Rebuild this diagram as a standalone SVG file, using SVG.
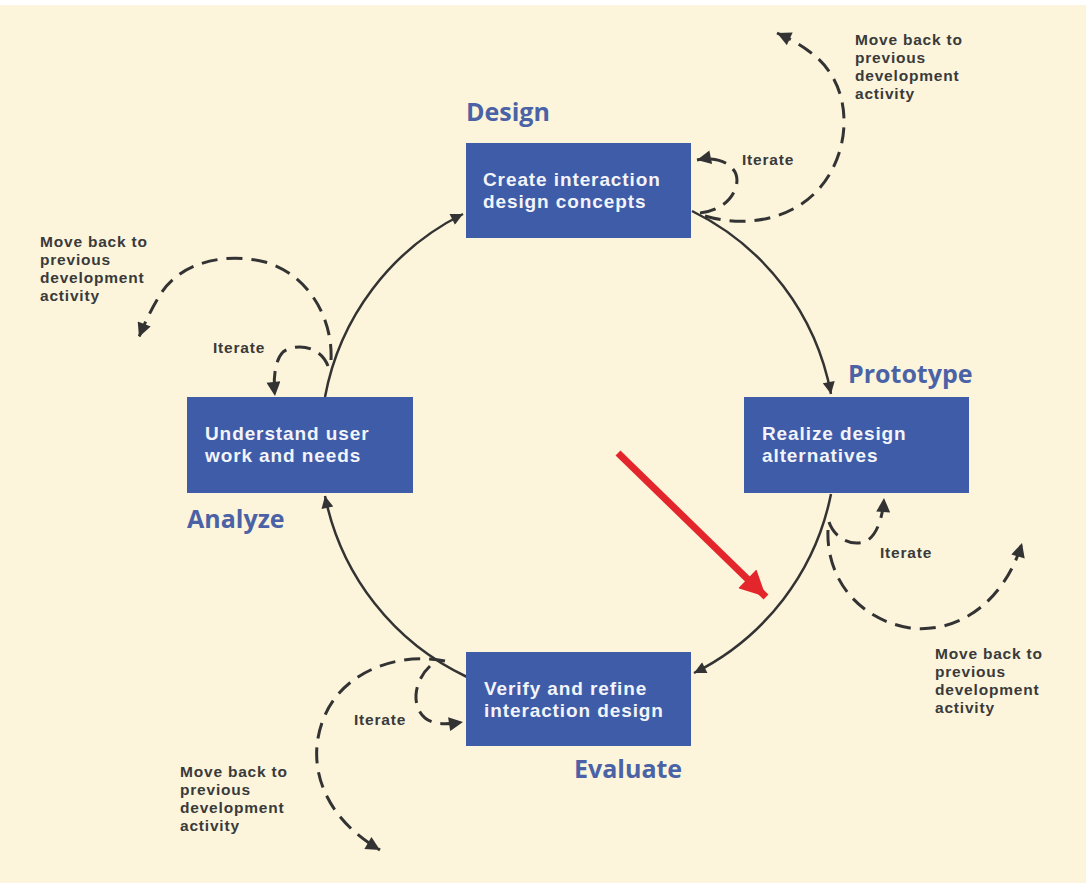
<svg xmlns="http://www.w3.org/2000/svg" width="1086" height="886" viewBox="0 0 1086 886">
<defs>
<style>
.box{fill:#3f5ca8}
.bt{font-family:"Liberation Sans",Arial,sans-serif;font-weight:700;font-size:19px;letter-spacing:0.9px;fill:#f2f4fa}
.lab{font-family:"Open Sans","Liberation Sans",sans-serif;font-weight:700;font-size:25px;fill:#4b63a6}
.sm{font-family:"Liberation Sans",Arial,sans-serif;font-weight:700;font-size:15.5px;letter-spacing:0.8px;fill:#3a3a3a}
.solid{fill:none;stroke:#333;stroke-width:2.5}
.dash{fill:none;stroke:#333;stroke-width:3;stroke-dasharray:16 9}
</style>
<marker id="ah" viewBox="0 0 10 10" refX="10" refY="5" markerUnits="userSpaceOnUse" markerWidth="16" markerHeight="12" orient="auto"><path d="M0,0 L10,5 L0,10 z" fill="#333"/></marker>
<marker id="ahd" viewBox="0 0 10 10" refX="10" refY="5" markerUnits="userSpaceOnUse" markerWidth="17" markerHeight="14" orient="auto"><path d="M0,0 L10,5 L0,10 z" fill="#333"/></marker>
<marker id="ahr" viewBox="0 0 10 10" refX="10" refY="5" markerUnits="userSpaceOnUse" markerWidth="30" markerHeight="26" orient="auto"><path d="M0,0 L10,5 L0,10 z" fill="#e3262b"/></marker>
</defs>
<rect x="0" y="0" width="1086" height="886" fill="#ffffff"/>
<rect x="0" y="5" width="1086" height="878" fill="#fcf5dc"/>

<g id="connectors">
<path class="solid" d="M692,211 A256,256 0 0 1 831,394" marker-end="url(#ah)"/>
<path class="solid" d="M831,494 A256,256 0 0 1 694,673" marker-end="url(#ah)"/>
<path class="solid" d="M467,677 A256,256 0 0 1 325,496" marker-end="url(#ah)"/>
<path class="solid" d="M325,397 A256,256 0 0 1 463,214" marker-end="url(#ah)"/>

<path class="dash" d="M700,213 C730,210 742,185 735,172 C728,160 712,157 697,160" marker-end="url(#ahd)"/>
<path class="dash" d="M705,216 C760,232 822,212 840,150 C850,115 842,75 810,52 C800,44 788,38 777,33" marker-end="url(#ahd)"/>

<path class="dash" d="M328,366 C320,345 295,343 283,352 C275,360 273,378 275,396" marker-end="url(#ahd)"/>
<path class="dash" d="M331,360 C333,320 310,275 265,262 C225,252 180,262 160,295 C152,308 145,322 139,337" marker-end="url(#ahd)"/>

<path class="dash" d="M829,522 C835,540 855,548 868,540 C878,533 883,515 884,498" marker-end="url(#ahd)"/>
<path class="dash" d="M828,530 C826,580 860,620 910,628 C960,634 1005,600 1022,543" marker-end="url(#ahd)"/>

<path class="dash" d="M430,666 C415,680 410,705 425,718 C435,726 450,724 463,722" marker-end="url(#ahd)"/>
<path class="dash" d="M445,661 C400,652 345,670 325,715 C305,760 320,815 380,850" marker-end="url(#ahd)"/>

<path d="M618,453 L766,597" fill="none" stroke="#e3262b" stroke-width="7" marker-end="url(#ahr)"/>
</g>

<g id="design">
<rect class="box" x="466" y="143" width="225" height="95"/>
<text class="bt" x="483" y="186">Create interaction</text>
<text class="bt" x="483" y="208">design concepts</text>
<text class="lab" x="466" y="121">Design</text>
</g>
<g id="prototype">
<rect class="box" x="744" y="397" width="225" height="96"/>
<text class="bt" x="762" y="440">Realize design</text>
<text class="bt" x="762" y="462">alternatives</text>
<text class="lab" x="848" y="383">Prototype</text>
</g>
<g id="analyze">
<rect class="box" x="187" y="397" width="226" height="96"/>
<text class="bt" x="205" y="440">Understand user</text>
<text class="bt" x="205" y="462">work and needs</text>
<text class="lab" x="187" y="528">Analyze</text>
</g>
<g id="evaluate">
<rect class="box" x="466" y="652" width="225" height="94"/>
<text class="bt" x="484" y="695">Verify and refine</text>
<text class="bt" x="484" y="717">interaction design</text>
<text class="lab" x="574" y="778">Evaluate</text>
</g>

<g id="notes">
<text class="sm" x="742" y="165">Iterate</text>
<text class="sm"><tspan x="855" y="45">Move back to</tspan><tspan x="855" y="63">previous</tspan><tspan x="855" y="81">development</tspan><tspan x="855" y="99">activity</tspan></text>
<text class="sm" x="213" y="353">Iterate</text>
<text class="sm"><tspan x="40" y="247">Move back to</tspan><tspan x="40" y="265">previous</tspan><tspan x="40" y="283">development</tspan><tspan x="40" y="301">activity</tspan></text>
<text class="sm" x="880" y="558">Iterate</text>
<text class="sm"><tspan x="935" y="659">Move back to</tspan><tspan x="935" y="677">previous</tspan><tspan x="935" y="695">development</tspan><tspan x="935" y="713">activity</tspan></text>
<text class="sm" x="354" y="725">Iterate</text>
<text class="sm"><tspan x="180" y="777">Move back to</tspan><tspan x="180" y="795">previous</tspan><tspan x="180" y="813">development</tspan><tspan x="180" y="831">activity</tspan></text>
</g>
</svg>
